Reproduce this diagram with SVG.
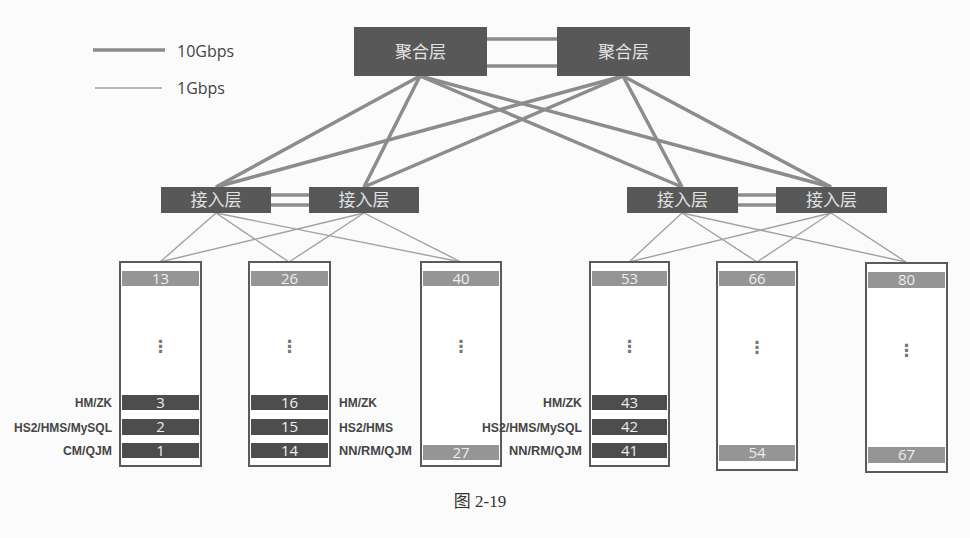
<svg xmlns="http://www.w3.org/2000/svg" width="970" height="538" viewBox="0 0 970 538">
<style>
.bg{fill:#fbfbfb}
.sw{fill:#585858}
.swt{font-family:"Noto Sans CJK SC","Noto Sans",sans-serif;font-size:17px;fill:#e2e2e2;text-anchor:middle}
.thick{stroke:#8c8c8c;stroke-width:3.5;fill:none}
.thin{stroke:#a2a2a2;stroke-width:1.4;fill:none}
.rack{fill:#fff;stroke:#5a5a5a;stroke-width:2}
.lb{fill:#959595}
.db{fill:#4d4d4d}
.num{font-family:"Open Sans","Liberation Sans",sans-serif;font-size:15px;fill:#eeeeee;text-anchor:middle}
.dots{font-family:"DejaVu Sans",sans-serif;font-size:17px;font-weight:bold;fill:#777;text-anchor:middle}
.lab{font-family:"Liberation Sans",Arial,sans-serif;font-size:12px;font-weight:bold;fill:#454545}
.leg{font-family:"Open Sans","Liberation Sans",sans-serif;font-size:16px;fill:#444}
.cap{font-family:"Liberation Serif","Noto Sans CJK SC",serif;font-size:17px;fill:#333;text-anchor:middle}
</style>
<rect class="bg" x="0" y="0" width="970" height="538"/>

<g id="legend">
<line class="thick" x1="93" y1="50" x2="165" y2="50" stroke-width="4.5"/>
<text class="leg" x="177" y="57">10Gbps</text>
<line class="thin" x1="95" y1="88" x2="162" y2="88" stroke-width="2"/>
<text class="leg" x="177" y="94">1Gbps</text>
</g>

<g id="connectors">
<line class="thick" x1="487" y1="39" x2="557" y2="39"/>
<line class="thick" x1="487" y1="66" x2="557" y2="66"/>
<line class="thick" x1="271" y1="195" x2="309" y2="195"/>
<line class="thick" x1="271" y1="205" x2="309" y2="205"/>
<line class="thick" x1="738" y1="195" x2="776" y2="195"/>
<line class="thick" x1="738" y1="205" x2="776" y2="205"/>
<line class="thick" x1="420" y1="76" x2="216" y2="187"/>
<line class="thick" x1="420" y1="76" x2="364" y2="187"/>
<line class="thick" x1="420" y1="76" x2="682" y2="187"/>
<line class="thick" x1="420" y1="76" x2="831" y2="187"/>
<line class="thick" x1="623" y1="76" x2="216" y2="187"/>
<line class="thick" x1="623" y1="76" x2="364" y2="187"/>
<line class="thick" x1="623" y1="76" x2="682" y2="187"/>
<line class="thick" x1="623" y1="76" x2="831" y2="187"/>
<line class="thin" x1="216" y1="213" x2="160" y2="262"/>
<line class="thin" x1="216" y1="213" x2="289" y2="262"/>
<line class="thin" x1="216" y1="213" x2="461" y2="262"/>
<line class="thin" x1="364" y1="213" x2="160" y2="262"/>
<line class="thin" x1="364" y1="213" x2="289" y2="262"/>
<line class="thin" x1="364" y1="213" x2="461" y2="262"/>
<line class="thin" x1="682" y1="213" x2="629" y2="262"/>
<line class="thin" x1="682" y1="213" x2="757" y2="262"/>
<line class="thin" x1="682" y1="213" x2="906" y2="262"/>
<line class="thin" x1="831" y1="213" x2="629" y2="262"/>
<line class="thin" x1="831" y1="213" x2="757" y2="262"/>
<line class="thin" x1="831" y1="213" x2="906" y2="262"/>
</g>

<g id="agg1"><rect class="sw" x="354" y="27" width="133" height="49"/><text class="swt" x="420.5" y="58">聚合层</text></g>
<g id="agg2"><rect class="sw" x="557" y="27" width="133" height="49"/><text class="swt" x="623.5" y="58">聚合层</text></g>

<g id="acc1"><rect class="sw" x="161" y="187" width="110" height="26"/><text class="swt" x="216" y="206">接入层</text></g>
<g id="acc2"><rect class="sw" x="309" y="187" width="110" height="26"/><text class="swt" x="364" y="206">接入层</text></g>
<g id="acc3"><rect class="sw" x="627" y="187" width="111" height="26"/><text class="swt" x="682.5" y="206">接入层</text></g>
<g id="acc4"><rect class="sw" x="776" y="187" width="111" height="26"/><text class="swt" x="831.5" y="206">接入层</text></g>

<g id="rack1">
<rect class="rack" x="120" y="262" width="81" height="204"/>
<rect class="lb" x="122" y="271" width="77" height="15"/><text class="num" x="160.5" y="284">13</text>
<text class="dots" x="160.5" y="352">⋮</text>
<rect class="db" x="122" y="395" width="77" height="15"/><text class="num" x="160.5" y="408">3</text>
<rect class="db" x="122" y="419" width="77" height="16"/><text class="num" x="160.5" y="432">2</text>
<rect class="db" x="122" y="443" width="77" height="15"/><text class="num" x="160.5" y="456">1</text>
<text class="lab" x="112" y="407" text-anchor="end" textLength="37" lengthAdjust="spacingAndGlyphs">HM/ZK</text>
<text class="lab" x="112" y="432" text-anchor="end" textLength="98" lengthAdjust="spacingAndGlyphs">HS2/HMS/MySQL</text>
<text class="lab" x="112" y="455" text-anchor="end" textLength="49" lengthAdjust="spacingAndGlyphs">CM/QJM</text>
</g>

<g id="rack2">
<rect class="rack" x="249" y="262" width="81" height="204"/>
<rect class="lb" x="251" y="271" width="77" height="15"/><text class="num" x="289.5" y="284">26</text>
<text class="dots" x="289.5" y="352">⋮</text>
<rect class="db" x="251" y="395" width="77" height="15"/><text class="num" x="289.5" y="408">16</text>
<rect class="db" x="251" y="419" width="77" height="16"/><text class="num" x="289.5" y="432">15</text>
<rect class="db" x="251" y="443" width="77" height="15"/><text class="num" x="289.5" y="456">14</text>
<text class="lab" x="339" y="407" textLength="38" lengthAdjust="spacingAndGlyphs">HM/ZK</text>
<text class="lab" x="339" y="432" textLength="54" lengthAdjust="spacingAndGlyphs">HS2/HMS</text>
<text class="lab" x="339" y="455" textLength="73" lengthAdjust="spacingAndGlyphs">NN/RM/QJM</text>
</g>

<g id="rack3">
<rect class="rack" x="421" y="262" width="80" height="204"/>
<rect class="lb" x="423" y="271" width="76" height="15"/><text class="num" x="461" y="284">40</text>
<text class="dots" x="461" y="352">⋮</text>
<rect class="lb" x="423" y="445" width="76" height="15"/><text class="num" x="461" y="458">27</text>
</g>

<g id="rack4">
<rect class="rack" x="590" y="262" width="79" height="204"/>
<rect class="lb" x="592" y="271" width="75" height="15"/><text class="num" x="629.5" y="284">53</text>
<text class="dots" x="629.5" y="352">⋮</text>
<rect class="db" x="592" y="395" width="75" height="15"/><text class="num" x="629.5" y="408">43</text>
<rect class="db" x="592" y="419" width="75" height="16"/><text class="num" x="629.5" y="432">42</text>
<rect class="db" x="592" y="443" width="75" height="15"/><text class="num" x="629.5" y="456">41</text>
<text class="lab" x="582" y="407" text-anchor="end" textLength="39" lengthAdjust="spacingAndGlyphs">HM/ZK</text>
<text class="lab" x="582" y="432" text-anchor="end" textLength="100" lengthAdjust="spacingAndGlyphs">HS2/HMS/MySQL</text>
<text class="lab" x="582" y="455" text-anchor="end" textLength="73" lengthAdjust="spacingAndGlyphs">NN/RM/QJM</text>
</g>

<g id="rack5">
<rect class="rack" x="717" y="262" width="80" height="208"/>
<rect class="lb" x="719" y="271" width="76" height="15"/><text class="num" x="757" y="284">66</text>
<text class="dots" x="757" y="353">⋮</text>
<rect class="lb" x="719" y="445" width="76" height="16"/><text class="num" x="757" y="458">54</text>
</g>

<g id="rack6">
<rect class="rack" x="866" y="263" width="81" height="209"/>
<rect class="lb" x="868" y="272" width="77" height="16"/><text class="num" x="906.5" y="285">80</text>
<text class="dots" x="906.5" y="356">⋮</text>
<rect class="lb" x="868" y="447" width="77" height="16"/><text class="num" x="906.5" y="460">67</text>
</g>

<text class="cap" x="480" y="507">图 2-19</text>
</svg>
